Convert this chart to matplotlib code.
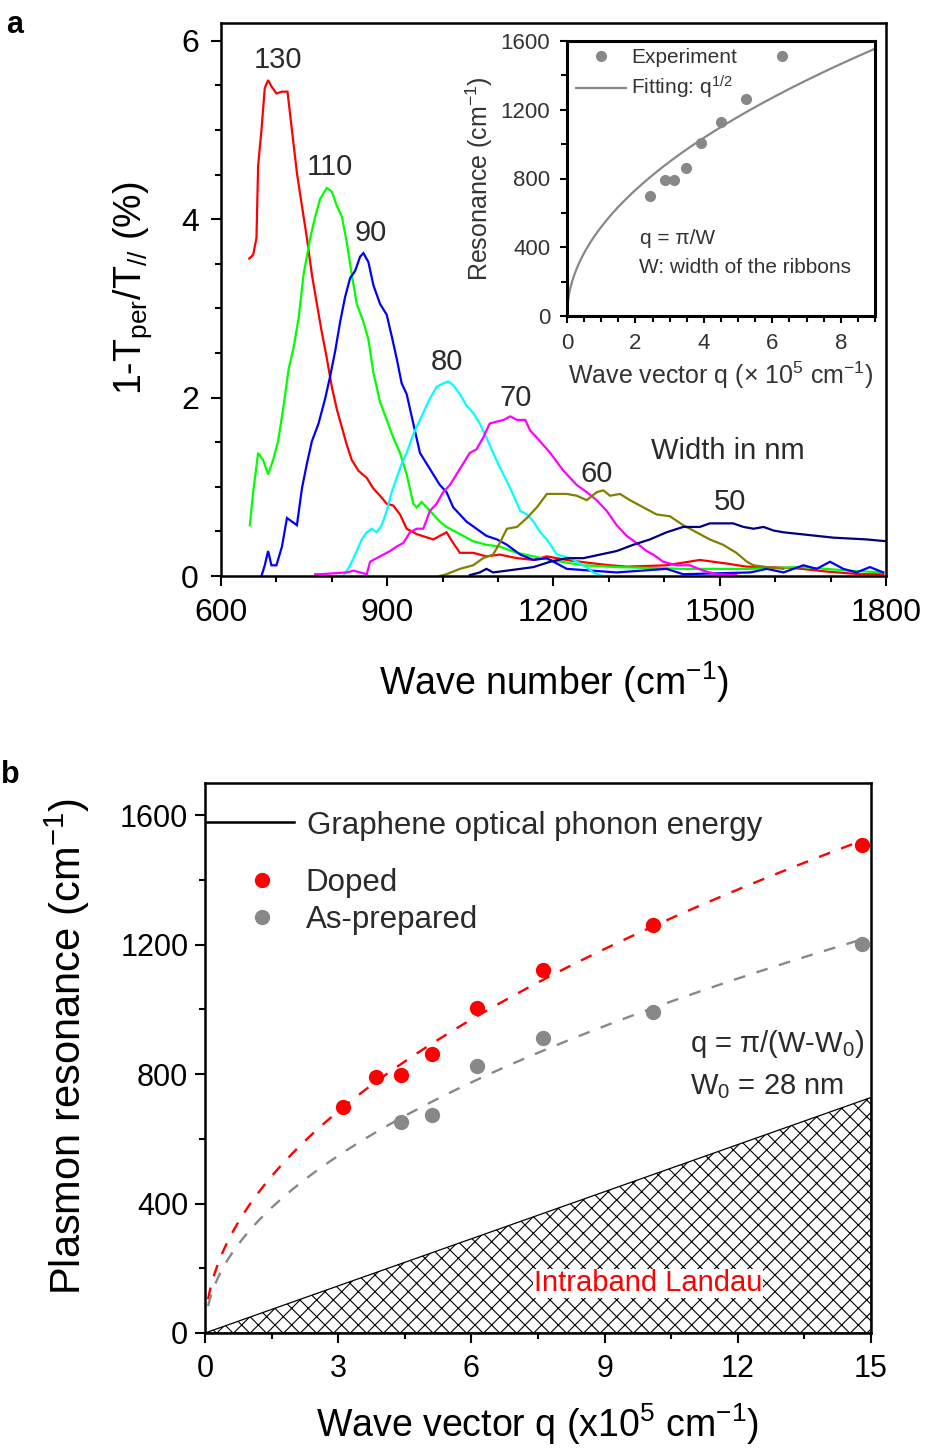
import numpy as np
import matplotlib
matplotlib.use("Agg")
import matplotlib.pyplot as plt
from matplotlib.ticker import MultipleLocator

plt.rcParams['font.family'] = ['Liberation Sans', 'DejaVu Sans']
plt.rcParams['mathtext.fontset'] = 'custom'
plt.rcParams['mathtext.rm'] = 'Liberation Sans'
plt.rcParams['mathtext.it'] = 'Liberation Sans:italic'
plt.rcParams['hatch.linewidth'] = 0.8

# ---------------- panel a: extinction spectra (wave number, %) ----------------
wn130 = [651, 658, 664, 667, 673, 679, 685, 691, 700, 710, 720, 728, 737, 746, 755, 764,
         773, 782, 791, 800, 809, 818, 827, 836, 848, 863, 875, 887, 899, 911, 923, 935,
         953, 983, 1007, 1019, 1031, 1055, 1079, 1103, 1134, 1164, 1188, 1224, 1260, 1302,
         1332, 1404, 1464, 1512, 1548, 1633, 1693, 1753, 1795]
a130 = [3.56, 3.60, 3.79, 4.60, 5.00, 5.47, 5.56, 5.49, 5.41, 5.43, 5.43, 5.00, 4.52, 4.15, 3.79, 3.38,
        3.05, 2.73, 2.44, 2.12, 1.87, 1.67, 1.47, 1.30, 1.18, 1.10, 0.98, 0.90, 0.81, 0.79, 0.69, 0.53,
        0.47, 0.41, 0.49, 0.37, 0.26, 0.26, 0.22, 0.24, 0.20, 0.18, 0.22, 0.18, 0.15, 0.12,
        0.105, 0.12, 0.18, 0.14, 0.105, 0.09, 0.05, 0.02, 0.02]

wn110 = [652, 658, 667, 676, 685, 694, 703, 713, 722, 731, 740, 749, 761, 770, 779, 791,
         800, 809, 818, 827, 836, 845, 857, 866, 875, 887, 899, 911, 923, 935, 947, 953,
         962, 971, 983, 995, 1007, 1031, 1055, 1079, 1103, 1134, 1164, 1194, 1254, 1314,
         1434, 1555, 1645, 1735, 1795]
a110 = [0.57, 0.94, 1.38, 1.30, 1.14, 1.30, 1.51, 1.91, 2.32, 2.56, 2.89, 3.38, 3.79, 4.03, 4.23, 4.35,
        4.31, 4.15, 4.03, 3.74, 3.38, 3.05, 2.85, 2.65, 2.28, 1.95, 1.75, 1.55, 1.38, 1.14, 0.81, 0.77,
        0.83, 0.77, 0.69, 0.61, 0.55, 0.47, 0.39, 0.35, 0.33, 0.26, 0.22, 0.18, 0.12, 0.10,
        0.08, 0.08, 0.10, 0.06, 0.04]

wn90 = [673, 679, 685, 691, 700, 710, 719, 728, 737, 746, 755, 764, 776, 788, 797, 806,
        815, 824, 833, 842, 851, 857, 866, 875, 887, 899, 908, 917, 926, 935, 947, 959,
        971, 983, 995, 1007, 1019, 1031, 1043, 1061, 1079, 1098, 1116, 1140, 1164, 1188,
        1224, 1314, 1404, 1434, 1555, 1585, 1615, 1651, 1675, 1699, 1723, 1747, 1771, 1795]
a90 = [0.00, 0.12, 0.28, 0.12, 0.12, 0.33, 0.65, 0.61, 0.57, 0.98, 1.26, 1.51, 1.71, 1.99, 2.24, 2.52,
       2.85, 3.13, 3.34, 3.42, 3.58, 3.62, 3.52, 3.26, 3.05, 2.93, 2.69, 2.44, 2.16, 2.04, 1.71, 1.38,
       1.26, 1.14, 1.02, 0.94, 0.77, 0.69, 0.61, 0.53, 0.45, 0.41, 0.35, 0.24, 0.18, 0.20,
       0.08, 0.04, 0.08, 0.02, 0.04, 0.08, 0.04, 0.12, 0.08, 0.16, 0.08, 0.04, 0.10, 0.04]

wn80 = [821, 833, 845, 854, 863, 872, 881, 890, 899, 908, 917, 926, 935, 947, 956, 965,
        977, 989, 1001, 1010, 1019, 1031, 1043, 1055, 1067, 1079, 1091, 1103, 1116, 1128,
        1140, 1152, 1164, 1176, 1188, 1206, 1230, 1254, 1272, 1288]
a80 = [0.00, 0.12, 0.28, 0.41, 0.49, 0.53, 0.49, 0.57, 0.73, 0.94, 1.10, 1.26, 1.38, 1.59, 1.71, 1.83,
       1.99, 2.12, 2.16, 2.18, 2.14, 2.04, 1.91, 1.83, 1.71, 1.55, 1.38, 1.22, 1.06, 0.90,
       0.73, 0.69, 0.61, 0.49, 0.41, 0.24, 0.20, 0.12, 0.04, 0.00]

wn70 = [770, 779, 827, 839, 851, 863, 869, 881, 893, 905, 917, 929, 941, 953, 965, 977,
        989, 1001, 1013, 1025, 1037, 1049, 1061, 1073, 1085, 1097, 1110, 1122, 1134, 1149,
        1158, 1170, 1194, 1218, 1242, 1260, 1278, 1296, 1314, 1332, 1350, 1368, 1380, 1398,
        1422, 1446, 1470, 1494, 1530]
a70 = [0.02, 0.02, 0.04, 0.06, 0.04, 0.02, 0.16, 0.20, 0.24, 0.28, 0.33, 0.37, 0.49, 0.53, 0.53, 0.73,
       0.81, 0.94, 1.02, 1.14, 1.26, 1.38, 1.42, 1.55, 1.71, 1.73, 1.75, 1.79, 1.75, 1.75,
       1.63, 1.55, 1.38, 1.18, 1.02, 0.94, 0.85, 0.73, 0.57, 0.45, 0.37, 0.28, 0.24, 0.16,
       0.12, 0.12, 0.06, 0.02, 0.01]

wn60 = [995, 1007, 1031, 1055, 1073, 1091, 1103, 1116, 1134, 1152, 1170, 1188, 1224, 1242,
        1260, 1278, 1290, 1302, 1320, 1338, 1362, 1386, 1410, 1434, 1458, 1482, 1506, 1530,
        1549, 1561, 1585, 1615]
a60 = [0.00, 0.02, 0.08, 0.12, 0.20, 0.24, 0.37, 0.53, 0.55, 0.65, 0.77, 0.92, 0.92, 0.90,
       0.85, 0.94, 0.96, 0.90, 0.92, 0.85, 0.77, 0.69, 0.67, 0.57, 0.49, 0.41, 0.35, 0.26,
       0.16, 0.12, 0.10, 0.08]

wn50 = [1049, 1067, 1079, 1091, 1116, 1140, 1164, 1194, 1224, 1254, 1284, 1314, 1344, 1374,
        1404, 1434, 1464, 1482, 1506, 1524, 1543, 1561, 1579, 1597, 1615, 1645, 1675, 1705,
        1735, 1765, 1800]
a50 = [0.01, 0.04, 0.08, 0.04, 0.06, 0.08, 0.10, 0.16, 0.20, 0.20, 0.24, 0.28, 0.35, 0.41,
       0.49, 0.55, 0.55, 0.59, 0.59, 0.59, 0.55, 0.53, 0.55, 0.51, 0.49, 0.47, 0.45, 0.43,
       0.42, 0.41, 0.39]

spectra = [(wn130, a130, '#FF0000'), (wn110, a110, '#00FF00'), (wn90, a90, '#0000FF'),
           (wn80, a80, '#00FFFF'), (wn70, a70, '#FF00FF'), (wn60, a60, '#808000'),
           (wn50, a50, '#000080')]

width_labels = ['130', '110', '90', '80', '70', '60', '50']
width_label_x = [703, 797, 871, 1008, 1131, 1278, 1518]
width_label_y = [5.78, 4.58, 3.85, 2.40, 2.00, 1.14, 0.83]

# ---------------- inset: resonance vs q = pi/W ----------------
inset_q = [2.42, 2.86, 3.14, 3.49, 3.93, 4.49, 5.24, 6.28]
inset_res = [700, 790, 790, 860, 1005, 1130, 1265, 1515]

# ---------------- panel b: plasmon resonance vs q = pi/(W-W0) ----------------
doped_q = [3.11, 3.86, 4.41, 5.12, 6.12, 7.62, 10.08, 14.8]
doped_res = [698, 792, 797, 863, 1006, 1121, 1262, 1509]
asprep_q = [4.41, 5.12, 6.12, 7.62, 10.08, 14.8]
asprep_res = [652, 673, 825, 912, 992, 1203]
phonon_energy = 1580
landau_q = [0, 15]
landau_res = [0, 728]


def sqrt_fit(q, r):
    """Least-squares amplitude A of r = A * sqrt(q)."""
    q = np.asarray(q, float)
    r = np.asarray(r, float)
    return np.sum(np.sqrt(q) * r) / np.sum(q)


W, H = 929, 1448
fig = plt.figure(figsize=(W / 100, H / 100), dpi=100)


def fig_rect(x0, y0, x1, y1):
    return [x0 / W, 1 - y1 / H, (x1 - x0) / W, (y1 - y0) / H]


def style_axes(ax, lw=1.8):
    for s in ax.spines.values():
        s.set_linewidth(lw)


TXT = '#2a2a2a'

# ===== panel a =====
ax1 = fig.add_axes(fig_rect(221, 23, 886, 576))
for x, y, c in spectra:
    ax1.plot(x, y, color=c, lw=1.6, solid_joinstyle='miter')
ax1.set_xlim(600, 1800)
ax1.set_ylim(0, 6.2)
ax1.xaxis.set_major_locator(MultipleLocator(300))
ax1.xaxis.set_minor_locator(MultipleLocator(100))
ax1.yaxis.set_major_locator(MultipleLocator(2))
ax1.yaxis.set_minor_locator(MultipleLocator(0.5))
ax1.tick_params(which='both', direction='out', top=False, right=False, width=1.5)
ax1.tick_params(which='major', length=7, labelsize=23, pad=9)
ax1.tick_params(which='minor', length=4.5)
style_axes(ax1)
ax1.set_xlabel('Wave number (cm$^{-1}$)', fontsize=27)
ax1.xaxis.set_label_coords(0.5, -0.15)
ax1.set_ylabel(r'1-T$_{\mathrm{per}}$/T$_{//}$ (%)', fontsize=27)
ax1.yaxis.set_label_coords(-0.101, 0.52)
for lab, x, y in zip(width_labels, width_label_x, width_label_y):
    ax1.text(x, y, lab, fontsize=21, color=TXT, ha='center', va='center')
ax1.text(1515, 1.40, 'Width in nm', fontsize=21, color=TXT, ha='center', va='center')

# ===== inset =====
axi = fig.add_axes(fig_rect(567, 41, 875, 316))
A_in = sqrt_fit(inset_q, inset_res)
qf = np.linspace(0, 9, 400)
axi.plot(qf, A_in * np.sqrt(qf), color='#888888', lw=1.6, label='Fitting: q$^{1/2}$')
axi.plot(inset_q, inset_res, 'o', color='#888888', ms=7, ls='none', label='Experiment')
axi.set_xlim(0, 9)
axi.set_ylim(0, 1600)
axi.xaxis.set_major_locator(MultipleLocator(2))
axi.xaxis.set_minor_locator(MultipleLocator(0.5))
axi.yaxis.set_major_locator(MultipleLocator(400))
axi.yaxis.set_minor_locator(MultipleLocator(200))
axi.tick_params(which='both', direction='out', top=False, right=False, width=1.5)
axi.tick_params(which='major', length=5, labelsize=16, pad=7, colors='black', labelcolor='#333333')
axi.tick_params(which='minor', length=4)
style_axes(axi, 2.2)
axi.set_xlabel('Wave vector q (\u00d7 10$^{5}$ cm$^{-1}$)', fontsize=18, color='#333333')
axi.set_ylabel('Resonance (cm$^{-1}$)', fontsize=18, color='#333333')
h = axi.get_legend_handles_labels()
axi.legend([h[0][1], h[0][0]], [h[1][1], h[1][0]], loc='upper left',
           bbox_to_anchor=(0.03, 0.975), frameon=False, fontsize=15,
           handlelength=2.4, handletextpad=0.25, labelspacing=0.35,
           borderpad=0, borderaxespad=0, labelcolor='#333333')
axi.text(0.237, 0.28, 'q = \u03c0/W', transform=axi.transAxes, fontsize=15,
         color='#333333', va='center')
axi.text(0.234, 0.178, 'W: width of the ribbons', transform=axi.transAxes, fontsize=15,
         color='#333333', va='center')

# ===== panel b =====
ax2 = fig.add_axes(fig_rect(205, 783, 871, 1333))
ax2.fill_between(landau_q, 0, landau_res, facecolor='white', edgecolor='black',
                 hatch='xx', lw=0.9, zorder=1)
ax2.text(9.98, 154, 'Intraband Landau', color='#FF0000', fontsize=21, ha='center',
         va='center', zorder=3,
         bbox=dict(facecolor='white', edgecolor='none', pad=0.5))

A_d = sqrt_fit(doped_q, doped_res)
A_a = sqrt_fit(asprep_q, asprep_res)
qb = np.linspace(0.07, 14.8, 400)
ax2.plot(qb, A_d * np.sqrt(qb), color='#FF0000', lw=1.7, dashes=(5, 5), zorder=2)
ax2.plot(qb, A_a * np.sqrt(qb), color='#888888', lw=1.7, dashes=(5, 5), zorder=2)
sd = ax2.plot(doped_q, doped_res, 'o', color='#FF0000', ms=10, ls='none', zorder=4,
              label='Doped')[0]
sa = ax2.plot(asprep_q, asprep_res, 'o', color='#888888', ms=10, ls='none', zorder=4,
              label='As-prepared')[0]
ax2.plot([0, 2.0], [phonon_energy, phonon_energy], color='black', lw=1.8, zorder=2)
ax2.text(2.3, 1566, 'Graphene optical phonon energy', fontsize=22.5, color=TXT, va='center')
ax2.legend(handles=[sd, sa], loc='upper left', bbox_to_anchor=(0.062, 0.845),
           frameon=False, fontsize=22.5, handlelength=1.0, handletextpad=0.9,
           labelspacing=0.22, borderpad=0, borderaxespad=0, labelcolor=TXT)
ax2.text(10.92, 892, 'q = \u03c0/(W-W$_{0}$)', fontsize=21, color=TXT, va='center')
ax2.text(10.92, 763, 'W$_{0}$ = 28 nm', fontsize=21, color=TXT, va='center')

ax2.set_xlim(0, 15)
ax2.set_ylim(0, 1700)
ax2.xaxis.set_major_locator(MultipleLocator(3))
ax2.xaxis.set_minor_locator(MultipleLocator(1.5))
ax2.yaxis.set_major_locator(MultipleLocator(400))
ax2.yaxis.set_minor_locator(MultipleLocator(200))
ax2.tick_params(which='both', direction='out', top=False, right=False, width=1.5)
ax2.tick_params(which='major', length=7, labelsize=22, pad=8)
ax2.tick_params(axis='y', which='major', pad=5)
ax2.tick_params(which='minor', length=4.5)
style_axes(ax2)
ax2.set_xlabel('Wave vector q (x10$^{5}$ cm$^{-1}$)', fontsize=27)
ax2.xaxis.set_label_coords(0.5, -0.125)
ax2.set_ylabel('Plasmon resonance (cm$^{-1}$)', fontsize=30)
ax2.yaxis.set_label_coords(-0.17, 0.52)

fig.text(15 / W, 1 - 25 / H, 'a', fontsize=22, fontweight='bold', ha='center', va='center')
fig.text(10 / W, 1 - 775 / H, 'b', fontsize=22, fontweight='bold', ha='center', va='center')

fig.savefig('out.png', dpi=100)
